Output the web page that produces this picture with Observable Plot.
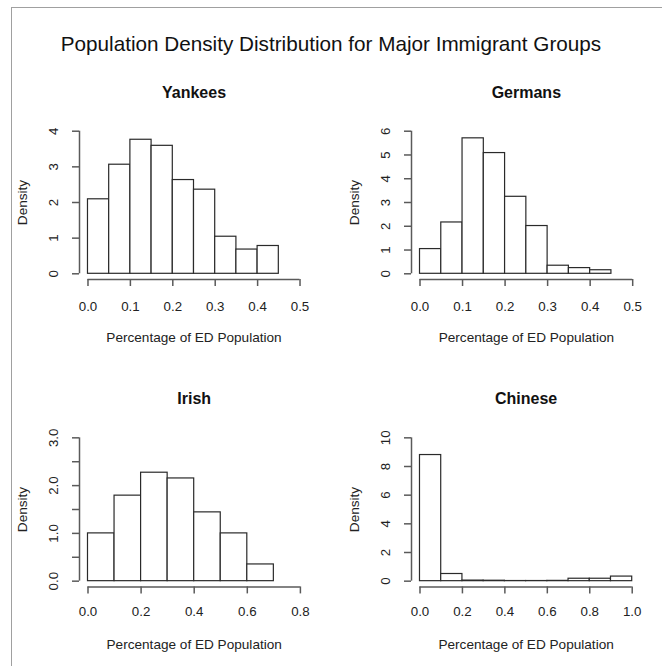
<!DOCTYPE html>
<html><head><meta charset="utf-8">
<script src="https://cdn.jsdelivr.net/npm/d3@7"></script>
<script src="https://cdn.jsdelivr.net/npm/@observablehq/plot@0.6"></script>
<style>
body{margin:0;background:#fff;font-family:"Liberation Sans",Arial,Helvetica,sans-serif;}
#wrap{position:relative;width:662px;height:666px;overflow:hidden;background:#fff;}
#frame{position:absolute;left:11px;top:7px;width:700px;height:700px;border-top:1.5px solid #a0a0a0;border-left:1.5px solid #a0a0a0;}
#title{position:absolute;left:0;width:662px;top:32px;line-height:24px;text-align:center;font-size:20.7px;color:#111;}
.panel{position:absolute;}
</style></head><body>
<div id="wrap"><div id="frame"></div><div id="title">Population Density Distribution for Major Immigrant Groups</div></div>
<script>
// ---- data ----
const xTitle = "Percentage of ED Population";
const yTitle = "Density";

const yankeesBreaks = [0, 0.05, 0.1, 0.15, 0.2, 0.25, 0.3, 0.35, 0.4, 0.45];
const yankeesDensity = [2.09, 3.06, 3.76, 3.59, 2.63, 2.36, 1.04, 0.68, 0.78];
const yankeesXTicks = [0, 0.1, 0.2, 0.3, 0.4, 0.5];
const yankeesYTicks = [0, 1, 2, 3, 4];
const yankeesYLabels = [0, 1, 2, 3, 4];

const germansBreaks = [0, 0.05, 0.1, 0.15, 0.2, 0.25, 0.3, 0.35, 0.4, 0.45];
const germansDensity = [1.04, 2.16, 5.70, 5.08, 3.24, 2.01, 0.34, 0.24, 0.15];
const germansXTicks = [0, 0.1, 0.2, 0.3, 0.4, 0.5];
const germansYTicks = [0, 1, 2, 3, 4, 5, 6];
const germansYLabels = [0, 1, 2, 3, 4, 5, 6];

const irishBreaks = [0, 0.1, 0.2, 0.3, 0.4, 0.5, 0.6, 0.7];
const irishDensity = [1.0, 1.79, 2.27, 2.15, 1.44, 1.0, 0.35];
const irishXTicks = [0, 0.2, 0.4, 0.6, 0.8];
const irishYTicks = [0, 0.5, 1, 1.5, 2, 2.5, 3];
const irishYLabels = [0, 1, 2, 3];

const chineseBreaks = [0, 0.1, 0.2, 0.3, 0.4, 0.5, 0.6, 0.7, 0.8, 0.9, 1.0];
const chineseDensity = [8.8, 0.5, 0.04, 0.03, 0.01, 0.01, 0.02, 0.17, 0.17, 0.32];
const chineseXTicks = [0, 0.2, 0.4, 0.6, 0.8, 1.0];
const chineseYTicks = [0, 2, 4, 6, 8, 10];
const chineseYLabels = [0, 2, 4, 6, 8, 10];

const groups = ["Yankees", "Germans", "Irish", "Chinese"];

// ---- layout (positions/styles) ----
const panels = [
  {name: groups[0], left: 0,   top: 70,  width: 331, height: 290, mt: 55,   mb: 81,   ml: 79, mr: 23,
   breaks: yankeesBreaks, density: yankeesDensity, xTicks: yankeesXTicks, yTicks: yankeesYTicks, yLabels: yankeesYLabels,
   xlim: [0, 0.5], ylim: [0, 4], xFmt: d3.format(".1f"), yFmt: d3.format("d"), xdy: 27},
  {name: groups[1], left: 331, top: 70,  width: 331, height: 290, mt: 55,   mb: 81,   ml: 80, mr: 21.3,
   breaks: germansBreaks, density: germansDensity, xTicks: germansXTicks, yTicks: germansYTicks, yLabels: germansYLabels,
   xlim: [0, 0.5], ylim: [0, 6], xFmt: d3.format(".1f"), yFmt: d3.format("d"), xdy: 27},
  {name: groups[2], left: 0,   top: 380, width: 331, height: 286, mt: 51.6, mb: 79.6, ml: 79, mr: 22.6,
   breaks: irishBreaks, density: irishDensity, xTicks: irishXTicks, yTicks: irishYTicks, yLabels: irishYLabels,
   xlim: [0, 0.8], ylim: [0, 3], xFmt: d3.format(".1f"), yFmt: d3.format(".1f"), xdy: 25},
  {name: groups[3], left: 331, top: 380, width: 331, height: 286, mt: 51.6, mb: 79.6, ml: 80, mr: 21.8,
   breaks: chineseBreaks, density: chineseDensity, xTicks: chineseXTicks, yTicks: chineseYTicks, yLabels: chineseYLabels,
   xlim: [0, 1], ylim: [0, 10], xFmt: d3.format(".1f"), yFmt: d3.format("d"), xdy: 25}
];

const pad = (lim) => { const s = (lim[1] - lim[0]) * 0.04; return [lim[0] - s, lim[1] + s]; };
const axisColor = "#5a5a5a";
const barColor = "#2a2a2a";
const textColor = "#222";
const tickFont = 13.3;
const titleFont = 13.6;

const wrap = document.getElementById("wrap");
for (const p of panels) {
  const bins = p.density.map((d, i) => ({x1: p.breaks[i], x2: p.breaks[i + 1], y: d}));
  const xd = pad(p.xlim), yd = pad(p.ylim);
  const chart = Plot.plot({
    width: p.width, height: p.height,
    marginTop: p.mt, marginBottom: p.mb, marginLeft: p.ml, marginRight: p.mr,
    style: {fontFamily: '"Liberation Sans", Arial, Helvetica, sans-serif', fontSize: "13.3px", color: textColor, background: "transparent", overflow: "visible"},
    x: {domain: xd, axis: null},
    y: {domain: yd, axis: null},
    marks: [
      Plot.rect(bins, {x1: "x1", x2: "x2", y1: 0, y2: "y", fill: "white", stroke: barColor, strokeWidth: 1.2, inset: 0}),
      Plot.ruleX([xd[0]], {y1: p.yTicks[0], y2: p.yTicks[p.yTicks.length - 1], stroke: axisColor, strokeWidth: 1.5}),
      Plot.ruleY([yd[0]], {x1: p.xTicks[0], x2: p.xTicks[p.xTicks.length - 1], stroke: axisColor, strokeWidth: 1.5}),
      Plot.axisX({ticks: p.xTicks, anchor: "bottom", tickSize: 7, tickFormat: () => "", label: null, stroke: axisColor, strokeWidth: 1.5}),
      Plot.axisY({ticks: p.yTicks, anchor: "left", tickSize: 7, tickFormat: () => "", label: null, stroke: axisColor, strokeWidth: 1.5}),
      Plot.text(p.xTicks, {x: d => d, frameAnchor: "bottom", dy: p.xdy, text: p.xFmt, lineAnchor: "middle", fontSize: tickFont, fill: textColor}),
      Plot.text(p.yLabels, {y: d => d, frameAnchor: "left", dx: -26, rotate: -90, text: p.yFmt, textAnchor: "middle", lineAnchor: "middle", fontSize: tickFont, fill: textColor}),
      Plot.text([xTitle], {frameAnchor: "bottom", dy: 58, text: d => d, lineAnchor: "middle", fontSize: titleFont, fill: textColor}),
      Plot.text([yTitle], {frameAnchor: "left", dx: -57, rotate: -90, text: d => d, textAnchor: "middle", lineAnchor: "middle", fontSize: titleFont, fill: textColor}),
      Plot.text([p.name], {frameAnchor: "top", dy: -33, text: d => d, lineAnchor: "middle", fontWeight: "bold", fontSize: 16, fill: "#111"})
    ]
  });
  chart.classList.add("panel");
  chart.style.left = p.left + "px";
  chart.style.top = p.top + "px";
  wrap.appendChild(chart);
}
</script>
</body></html>
